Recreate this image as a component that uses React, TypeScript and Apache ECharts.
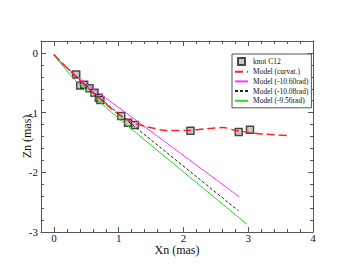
import React, { useEffect, useRef } from "react";
import * as echarts from "echarts";

const knotC12: [number, number][] = [
  [0.344, -0.363], [0.405, -0.547], [0.467, -0.531], [0.549, -0.592],
  [0.626, -0.665], [0.693, -0.749], [0.718, -0.788], [1.04, -1.056],
  [1.144, -1.168], [1.25, -1.207], [2.108, -1.302], [2.853, -1.324],
  [3.027, -1.285],
];
const modelCurvat: [number, number][] = [
  [0, -0.03], [0.1, -0.14], [0.35, -0.41], [0.7, -0.76], [1.0, -1.03],
  [1.25, -1.18], [1.43, -1.235], [1.74, -1.3], [2.05, -1.3], [2.35, -1.27],
  [2.62, -1.25], [2.77, -1.29], [3.02, -1.335], [3.28, -1.363], [3.65, -1.385],
];
const model1060: [number, number][] = [
  [0, -0.02], [0.05, -0.09], [0.15, -0.2], [0.3, -0.34], [0.6, -0.6],
  [1.12, -1.01], [2.86, -2.41],
];
const model1008: [number, number][] = [
  [0, -0.03], [0.1, -0.15], [0.35, -0.4], [0.7, -0.75], [1.15, -1.15],
  [2.85, -2.645],
];
const model956: [number, number][] = [
  [0, -0.04], [0.1, -0.17], [0.3, -0.43], [1.0, -1.1], [2.98, -2.87],
];
const xMajorTicks = [0, 1, 2, 3, 4];
const yMajorTicks = [-3, -2, -1, 0];

const SERIF = "'Liberation Serif', 'DejaVu Serif', serif";
const FRAME = "#555";

export default function App() {
  const ref = useRef<HTMLDivElement>(null);
  useEffect(() => {
    const chart = echarts.init(ref.current!, undefined, { renderer: "svg" });
    const line = { show: true, onZero: false, lineStyle: { color: FRAME, width: 1 } };
    const majorTickX = { show: true, inside: true, length: 5, customValues: xMajorTicks, lineStyle: { color: FRAME } };
    const minorAxisX = (pos: string) => ({
      type: "value", min: -0.2, max: 4, interval: 0.2, position: pos,
      axisLine: { show: false, onZero: false },
      axisTick: { show: true, inside: true, length: 3, lineStyle: { color: FRAME } },
      axisLabel: { show: false },
      splitLine: { show: false },
    });
    const yAxisCommon = {
      type: "value", min: -3, max: 0.2, interval: 1,
      axisLine: line,
      axisTick: { show: true, inside: true, length: 5, lineStyle: { color: FRAME } },
      minorTick: { show: true, splitNumber: 5, length: 3, lineStyle: { color: FRAME } },
      splitLine: { show: false },
    };
    const hideSym = { itemStyle: { opacity: 0 } };
    chart.setOption({
      animation: false,
      backgroundColor: "#fff",
      grid: { left: 41, right: 40, top: 41, bottom: 41 },
      legend: {
        left: 232,
        top: 54,
        orient: "vertical",
        backgroundColor: "#fff",
        borderColor: FRAME,
        borderWidth: 1,
        padding: [3, 3, 3, 2],
        itemGap: 1.7,
        itemWidth: 13,
        itemHeight: 7,
        textStyle: { fontFamily: SERIF, fontSize: 7.5, color: "#111" },
        data: [
          { name: "knot C12", icon: "path://M0,0H10V10H0Z" },
          { name: "Model (curvat.)", ...hideSym },
          { name: "Model (-10.60rad)", ...hideSym },
          { name: "Model (-10.08rad)", ...hideSym },
          { name: "Model (-9.56rad)", ...hideSym },
        ],
      },
      xAxis: [
        {
          type: "value", min: -0.2, max: 4, position: "bottom",
          axisLine: line,
          axisTick: majorTickX,
          axisLabel: {
            customValues: xMajorTicks,
            fontFamily: SERIF, fontSize: 11, color: "#111", margin: 0,
          },
          splitLine: { show: false },
          name: "Xn (mas)", nameLocation: "middle", nameGap: 12, nameMoveOverlap: false,
          nameTextStyle: { fontFamily: SERIF, fontSize: 12, color: "#111" },
        },
        {
          type: "value", min: -0.2, max: 4, position: "top",
          axisLine: line,
          axisTick: majorTickX,
          axisLabel: { show: false },
          splitLine: { show: false },
        },
        minorAxisX("bottom"),
        minorAxisX("top"),
      ],
      yAxis: [
        {
          ...yAxisCommon, position: "left",
          axisLabel: { customValues: yMajorTicks, fontFamily: SERIF, fontSize: 11, color: "#111", margin: 3 },
          name: "Zn (mas)", nameLocation: "middle", nameGap: 8.5, nameRotate: 90, nameMoveOverlap: false,
          nameTextStyle: { fontFamily: SERIF, fontSize: 12, color: "#111" },
        },
        { ...yAxisCommon, position: "right", axisLabel: { show: false } },
      ],
      series: [
        {
          name: "Model (-10.60rad)", type: "line", data: model1060, symbol: "none",
          lineStyle: { color: "#ff33ff", width: 1 }, itemStyle: { color: "#ff33ff" },
        },
        {
          name: "Model (-10.08rad)", type: "line", data: model1008, symbol: "none",
          lineStyle: { color: "#222", width: 1, type: [3, 2] }, itemStyle: { color: "#222" },
        },
        {
          name: "Model (-9.56rad)", type: "line", data: model956, symbol: "none",
          lineStyle: { color: "#22dd22", width: 1 }, itemStyle: { color: "#22dd22" },
        },
        {
          name: "Model (curvat.)", type: "line", data: modelCurvat, symbol: "none",
          smooth: 0.3,
          lineStyle: { color: "#ff2222", width: 1.5, type: [8, 4] }, itemStyle: { color: "#ff2222" },
        },
        {
          name: "knot C12", type: "scatter", data: knotC12, symbol: "rect", symbolSize: 7,
          itemStyle: { color: "#bdbdbd", borderColor: "#222", borderWidth: 1.5 },
        },
      ],
    });
    return () => chart.dispose();
  }, []);
  return (
    <div
      ref={ref}
      style={{ position: "fixed", left: 0, top: 0, width: 353, height: 273 }}
    />
  );
}
